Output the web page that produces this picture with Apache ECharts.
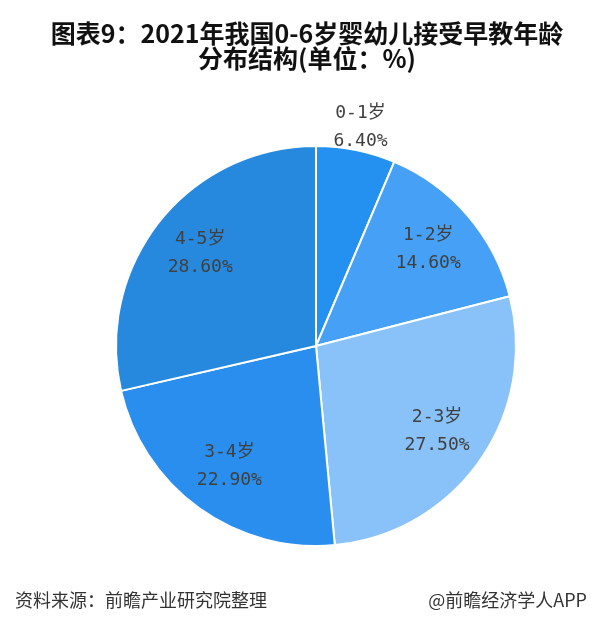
<!DOCTYPE html>
<html><head><meta charset="utf-8">
<script src="https://cdn.jsdelivr.net/npm/echarts@6/dist/echarts.min.js"></script>
<style>html,body{margin:0;padding:0;background:#fff}#c{width:600px;height:637px}</style>
</head><body><div id="c"></div>
<script>
const categories = ['0-1岁', '1-2岁', '2-3岁', '3-4岁', '4-5岁'];
const values = [6.4, 14.6, 27.5, 22.9, 28.6];
const colors = ['#2490F0', '#46A0F5', '#88C2F8', '#2A8EEE', '#2789DD'];
const outsideLabelCats = ['0-1岁'];

const chart = echarts.init(document.getElementById('c'));
const center = [316, 346];
const R = 200;
const labelFont = {fontFamily: '"DejaVu Sans Mono", "Noto Sans CJK SC", monospace', fontSize: 18, color: '#404040', lineHeight: 28};
const fmt = p => p.name + '\n' + p.value.toFixed(2) + '%';

const base = categories.map((c, i) => ({name: c, value: values[i], itemStyle: {color: colors[i]}}));
const innerLbl = categories.map((c, i) => ({name: c, value: values[i], label: {show: !outsideLabelCats.includes(c)}}));
const outerLbl = categories.map((c, i) => ({name: c, value: values[i], label: {show: outsideLabelCats.includes(c)}}));

chart.setOption({
  animation: false,
  title: [
    {text: '图表9：2021年我国0-6岁婴幼儿接受早教年龄\n分布结构(单位：%)', left: 302, top: 16, textAlign: 'center',
     textStyle: {fontFamily: '"Noto Sans CJK SC", sans-serif', fontWeight: 'bold', fontSize: 25, lineHeight: 25, color: '#111'}},
    {text: '资料来源：前瞻产业研究院整理', left: 10, top: 586,
     textStyle: {fontFamily: '"Noto Sans CJK SC", sans-serif', fontWeight: 'normal', fontSize: 18, color: '#333'}},
    {text: '@前瞻经济学人APP', right: 8, top: 586,
     textStyle: {fontFamily: '"Noto Sans CJK SC", sans-serif', fontWeight: 'normal', fontSize: 18, color: '#333'}}
  ],
  series: [
    {type: 'pie', center: center, radius: [0, R], startAngle: 90, clockwise: true, silent: true,
     label: {show: false}, labelLine: {show: false},
     itemStyle: {borderColor: '#fff', borderWidth: 2}, data: base},
    {type: 'pie', center: center, radius: [90, R], startAngle: 90, clockwise: true, silent: true,
     itemStyle: {color: 'rgba(0,0,0,0)'}, labelLine: {show: false},
     label: Object.assign({position: 'inside', formatter: fmt}, labelFont), data: innerLbl},
    {type: 'pie', center: center, radius: [R, 240], startAngle: 90, clockwise: true, silent: true,
     itemStyle: {color: 'rgba(0,0,0,0)'}, labelLine: {show: false},
     label: Object.assign({position: 'inside', formatter: fmt}, labelFont), data: outerLbl}
  ]
});
</script></body></html>
